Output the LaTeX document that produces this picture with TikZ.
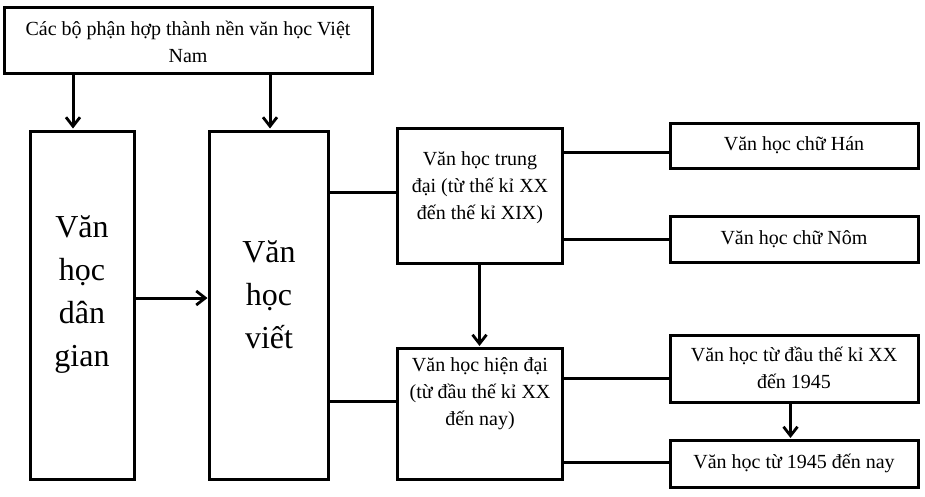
\documentclass[tikz,border=0pt]{standalone}
\usepackage{fontspec}
\setmainfont{Liberation Serif}
\usetikzlibrary{arrows.meta}
\begin{document}
\begin{tikzpicture}[x=1pt,y=-1pt,
  box/.style={draw, line width=3pt, inner sep=0pt},
  conn/.style={line width=3pt},
  arr/.style={conn, -{Straight Barb[length=9pt,width=14pt,line width=2.8pt]}},
  small/.style={font=\fontsize{20}{27}\selectfont, align=center, inner sep=0pt},
  big/.style={font=\fontsize{32}{43}\selectfont, align=center, inner sep=0pt}]
\useasboundingbox (0,0) rectangle (925,496);
% boxes
\node[box, minimum width=368pt, minimum height=66pt] (top) at (188,40) {};
\node[box, minimum width=104pt, minimum height=348pt] (dan) at (82,305) {};
\node[box, minimum width=119pt, minimum height=348pt] (viet) at (268.5,305) {};
\node[box, minimum width=165pt, minimum height=135pt] (trung) at (479.5,195.5) {};
\node[box, minimum width=165pt, minimum height=131pt] (hien) at (479.5,414) {};
\node[box, minimum width=248pt, minimum height=45pt] (han) at (794,145.5) {};
\node[box, minimum width=248pt, minimum height=46pt] (nom) at (794,239) {};
\node[box, minimum width=248pt, minimum height=67pt] (d1945) at (794,368.5) {};
\node[box, minimum width=248pt, minimum height=47pt] (nay) at (794,464) {};
% texts
\node[small] (ttop) at (188,41.5) {Các bộ phận hợp thành nền văn học Việt\\Nam};
\node[big] (tdan) at (82,295) {Văn\\học\\dân\\gian};
\node[big] (tviet) at (269,295) {Văn\\học\\viết};
\node[small] (ttrung) at (480,188) {Văn học trung\\đại (từ thế kỉ XX\\đến thế kỉ XIX)};
\node[small] (thien) at (480,394) {Văn học hiện đại\\(từ đầu thế kỉ XX\\đến nay)};
\node[small] (than) at (794,145) {Văn học chữ Hán};
\node[small] (tnom) at (794,239) {Văn học chữ Nôm};
\node[small] (td1945) at (794,368) {Văn học từ đầu thế kỉ XX\\đến 1945};
\node[small] (tnay) at (794,463) {Văn học từ 1945 đến nay};
% connectors
\draw[arr] ([xshift=-9pt]dan.north |- top.south) -- ([xshift=-9pt,yshift=1pt]dan.north);
\draw[arr] ([xshift=1.5pt]viet.north |- top.south) -- ([xshift=1.5pt,yshift=1pt]viet.north);
\draw[arr] ([yshift=7pt]dan.east) -- ([yshift=7pt]dan.east -| viet.west);
\draw[conn] ([yshift=3.5pt]trung.west -| viet.east) -- ([yshift=3.5pt]trung.west);
\draw[conn] ([yshift=12.5pt]hien.west -| viet.east) -- ([yshift=12.5pt]hien.west);
\draw[arr] (trung.south) -- ([yshift=1pt]hien.north);
\draw[conn] ([yshift=-6.5pt]han.west -| trung.east) -- ([yshift=-6.5pt]han.west);
\draw[conn] (nom.west -| trung.east) -- (nom.west);
\draw[conn] ([yshift=-9.5pt]d1945.west -| hien.east) -- ([yshift=-9.5pt]d1945.west);
\draw[conn] ([yshift=1.5pt]nay.west -| hien.east) -- ([yshift=1.5pt]nay.west);
\draw[arr] ([xshift=-3.5pt]d1945.south) -- ([xshift=-3.5pt,yshift=1pt]d1945.south |- nay.north);
\end{tikzpicture}
\end{document}
